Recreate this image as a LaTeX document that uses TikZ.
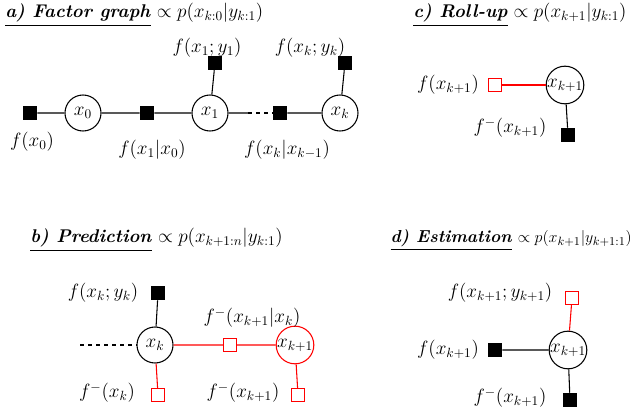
\documentclass[tikz,border=0pt]{standalone}
\usepackage{amsmath}
\begin{document}
\begin{tikzpicture}[x=0.75pt,y=-0.75pt,
 var/.style={circle,draw,thick,minimum size=27pt,inner sep=0pt,font=\fontsize{14}{16}\selectfont},
 rvar/.style={var,draw=red},
 bf/.style={rectangle,fill=black,minimum size=10.5pt,inner sep=0pt},
 rf/.style={rectangle,draw=red,thick,fill=white,minimum size=10pt,inner sep=0pt},
 lbl/.style={font=\fontsize{14.5}{16}\selectfont,inner sep=0pt},
 ttl/.style={font=\fontsize{13.8}{15}\selectfont,inner sep=0pt,anchor=west},
 ed/.style={thick},
 redl/.style={thick,draw=red}]
\useasboundingbox (0,0) rectangle (640,411);
% a)
\node[ttl] (ta) at (5,15) {\underline{\textbf{\textit{a) Factor graph}}} $\propto p(x_{k:0}|y_{k:1})$};
\node[bf] (f0) at (30,113) {};
\node[var] (x0) at (83,113) {$x_0$};
\node[bf] (f10) at (147,113) {};
\node[var] (x1) at (210,113) {$x_1$};
\node[bf] (f1y) at (215,63) {};
\node[bf] (fkk) at (280,113) {};
\node[var] (xk) at (340,113) {$x_k$};
\node[bf] (fky) at (345,63) {};
\coordinate (da) at (248,113);
\draw[ed] (f0)--(x0) (x0)--(f10) (f10)--(x1) (x1)--(da) (fkk)--(xk) (x1)--(f1y) (xk)--(fky);
\draw[ed,dashed] (da)--(fkk);
\node[lbl] (l0) at (32,142) {$f(x_0)$};
\node[lbl] (l10) at (152,150) {$f(x_1|x_0)$};
\node[lbl] (lkk) at (287,150) {$f(x_k|x_{k-1})$};
\node[lbl] (l1y) at (207,48) {$f(x_1;y_1)$};
\node[lbl] (lky) at (310,48) {$f(x_k;y_k)$};
% c)
\node[ttl] (tc) at (413,15) {\underline{\textbf{\textit{c) Roll-up}}} $\propto p(x_{k+1}|y_{k:1})$};
\node[var] (xc) at (565,85) {$x_{k+1}$};
\node[rf] (rc) at (495,85) {};
\node[bf] (bc) at (568,135) {};
\draw[redl] (rc)--(xc);
\draw[ed] (xc)--(bc);
\node[lbl] (lrc) at (448,85) {$f(x_{k+1})$};
\node[lbl] (lbc) at (510,128) {$f^{-}(x_{k+1})$};
% b)
\node[ttl] (tb) at (30,240) {\underline{\textbf{\textit{b) Prediction}}} $\propto p(x_{k+1:n}|y_{k:1})$};
\node[var] (xb) at (155,345) {$x_k$};
\node[bf] (bb) at (158,293) {};
\coordinate (db) at (80,345);
\node[rf] (rb) at (230,345) {};
\node[rvar] (xb1) at (295,345) {$x_{k+1}$};
\node[rf] (rbk) at (158,395) {};
\node[rf] (rbk1) at (298,395) {};
\draw[ed,dashed] (db)--(xb);
\draw[ed] (xb)--(bb);
\draw[redl] (xb)--(rb) (rb)--(xb1) (xb)--(rbk) (xb1)--(rbk1);
\node[lbl] (lbb) at (103,293) {$f(x_k;y_k)$};
\node[lbl] (lrb) at (252,318) {$f^{-}(x_{k+1}|x_k)$};
\node[lbl] (lrbk) at (107,393) {$f^{-}(x_k)$};
\node[lbl] (lrbk1) at (243,393) {$f^{-}(x_{k+1})$};
% d)
\node[ttl,anchor=east,font=\fontsize{13}{15}\selectfont] (td) at (632,240) {\underline{\textbf{\textit{d) Estimation}}} $\propto p(x_{k+1}|y_{k+1:1})$};
\node[var] (xd) at (568,350) {$x_{k+1}$};
\node[rf] (rd) at (572,298) {};
\node[bf] (bdl) at (495,350) {};
\node[bf] (bdb) at (570,400) {};
\draw[redl] (xd)--(rd);
\draw[ed] (bdl)--(xd) (xd)--(bdb);
\node[lbl] (lrd) at (500,293) {$f(x_{k+1};y_{k+1})$};
\node[lbl] (lbdl) at (448,350) {$f(x_{k+1})$};
\node[lbl] (lbdb) at (510,398) {$f^{-}(x_{k+1})$};
\end{tikzpicture}
\end{document}
